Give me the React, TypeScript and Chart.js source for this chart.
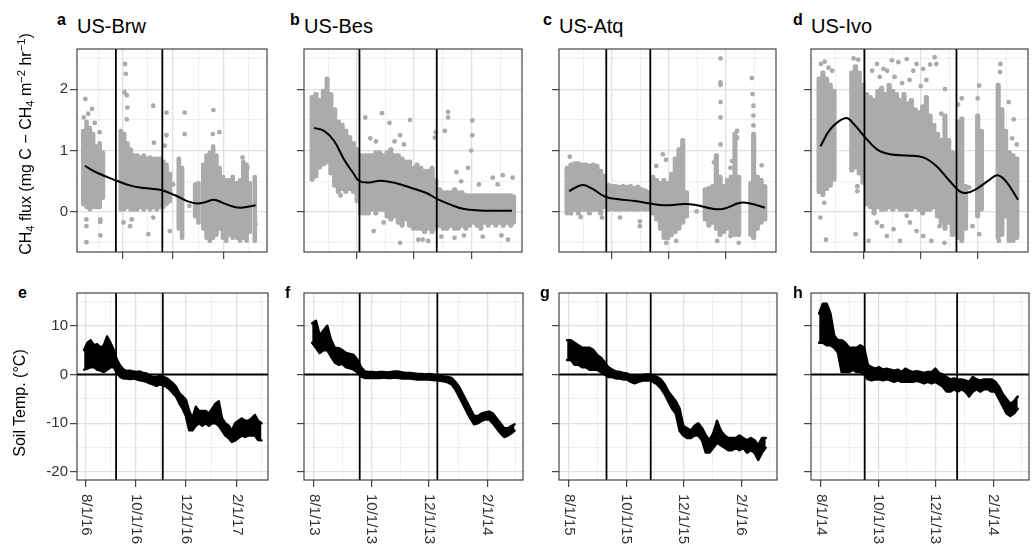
import React, { useEffect, useRef } from 'react';
import { Chart, registerables } from 'chart.js';

Chart.register(...registerables);

// ---------------- data ----------------
const SITES = ['US-Brw', 'US-Bes', 'US-Atq', 'US-Ivo'];
const FLUX_LETTERS = ['a', 'b', 'c', 'd'];
const TEMP_LETTERS = ['e', 'f', 'g', 'h'];

const DAY_RANGE = [-10.7, 222];
const DATE_TICK_DAYS = [0, 61, 122, 184];
const DATE_MINOR_DAYS = [30.5, 91.5, 153, 214.5];
const BRW_DATES = ['8/1/16', '10/1/16', '12/1/16', '2/1/17'];
const BES_DATES = ['8/1/13', '10/1/13', '12/1/13', '2/1/14'];
const ATQ_DATES = ['8/1/15', '10/1/15', '12/1/15', '2/1/16'];
const IVO_DATES = ['8/1/14', '10/1/13', '12/1/13', '2/1/14'];

const BRW_BREAKS = [36.9, 93.8];
const BES_BREAKS = [48.5, 131];
const ATQ_BREAKS = [40, 87.2];
const IVO_BREAKS = [46.6, 145.3];

const FLUX_RANGE = [-0.65, 2.654];
const FLUX_TICKS = [0, 1, 2];
const FLUX_MINOR = [-0.5, 0.5, 1.5, 2.5];
const TEMP_RANGE = [-21.62, 16.71];
const TEMP_TICKS = [-20, -10, 0, 10];
const TEMP_MINOR = [-15, -5, 5, 15];

// CH4 flux: dense cloud extent per bin [day, low, high]
const BRW_FLUX_BAND = [
  [-3, 0.1, 1.35], [1, 0.05, 1.5], [5, 0.0, 1.4], [9, 0.05, 1.3], [13, 0.05, 1.1], [17, 0.05, 1.15], [21, 0.2, 1.0],
  [43, 0.0, 1.35], [47, 0.0, 1.3], [51, 0.05, 1.15], [55, 0.0, 1.05], [59, 0.0, 0.95], [63, 0.0, 0.95], [67, 0.05, 0.92],
  [71, 0.0, 0.95], [75, 0.05, 0.9], [79, 0.0, 0.92], [83, 0.05, 0.9], [87, 0.0, 0.9], [91, 0.05, 0.9], [95, 0.05, 0.85],
  [99, 0.1, 0.8], [103, 0.15, 0.65],
  [114, -0.3, 0.9], [118, -0.45, 0.75],
  [134, -0.1, 0.48], [138, -0.2, 0.5],
  [144, -0.3, 0.8], [148, -0.45, 0.95], [152, -0.5, 1.0], [156, -0.45, 1.1], [160, -0.4, 0.95], [164, -0.3, 0.75],
  [168, -0.45, 0.6], [172, -0.5, 0.55], [176, -0.4, 0.55], [180, -0.45, 0.6],
  [185, -0.45, 0.5], [189, -0.5, 0.55], [193, -0.45, 0.85], [197, -0.5, 0.8], [201, -0.35, 0.5],
  [207, -0.5, 0.6],
];
const BRW_FLUX_POINTS = [
  [-0.4, 1.84], [7.7, 1.68], [-2.4, 1.54], [0.8, -0.12], [0.8, -0.23], [0.8, -0.49], [17.9, -0.12], [17.9, -0.16],
  [17.9, -0.38], [17, 1.3], [48.2, 2.41], [49, 2.25], [47.4, 1.95], [50.3, 1.9], [51, 1.7], [50.3, 1.51], [82.7, 1.73],
  [83.5, 1.13], [46.2, -0.17], [56.3, -0.12], [54.3, -0.23], [76.6, -0.36], [82.7, -0.09], [98.9, 1.62], [98.9, 1.25],
  [96.8, 1.08], [102.9, -0.31], [121.1, 1.62], [121.1, 1.27], [156.4, 1.66], [155.6, 1.27], [163.7, 1.3], [192, 0.89],
  [198.1, 0.72], [3, 1.6], [11, 1.45], [104, 0.3], [107, 0.45], [127, 0.1], [208, -0.2],
];
const BRW_FLUX_SMOOTH = [
  [-1, 0.75], [14, 0.64], [36, 0.52], [55, 0.43], [71, 0.39], [92, 0.36], [110, 0.27], [126, 0.17], [136, 0.14],
  [146, 0.16], [157, 0.2], [168, 0.15], [180, 0.09], [190, 0.07], [200, 0.09], [208, 0.11],
];

const BES_FLUX_BAND = [
  [-2, 0.5, 1.9], [2, 0.55, 1.95], [6, 0.7, 1.85], [10, 0.75, 2.0], [14, 0.78, 2.2], [18, 0.6, 1.95], [22, 0.4, 1.7],
  [26, 0.3, 1.5], [30, 0.35, 1.45], [34, 0.3, 1.35], [38, 0.35, 1.25], [42, 0.3, 1.15], [46, 0.15, 1.05],
  [50, -0.05, 0.95], [54, -0.05, 0.95], [58, -0.05, 0.95], [62, 0.0, 0.95], [66, -0.05, 1.0], [70, 0.0, 1.0],
  [74, 0.0, 0.95], [78, -0.1, 1.0], [82, -0.15, 1.05], [86, -0.1, 0.95], [90, -0.2, 0.95], [94, -0.25, 0.9],
  [98, -0.15, 0.85], [102, -0.25, 0.85], [106, -0.3, 0.75], [110, -0.3, 0.8], [114, -0.3, 0.75], [118, -0.35, 0.7],
  [122, -0.3, 0.7], [126, -0.35, 0.75], [130, -0.3, 0.55], [134, -0.25, 0.4], [138, -0.3, 0.35], [142, -0.3, 0.35],
  [146, -0.25, 0.35], [150, -0.3, 0.4], [154, -0.3, 0.35], [158, -0.25, 0.35], [162, -0.3, 0.3], [166, -0.25, 0.3],
  [170, -0.2, 0.3], [174, -0.25, 0.3], [178, -0.3, 0.3], [182, -0.2, 0.3], [186, -0.25, 0.3], [190, -0.2, 0.3],
  [194, -0.25, 0.3], [198, -0.2, 0.3], [202, -0.25, 0.3], [206, -0.2, 0.3], [210, -0.25, 0.3], [213, -0.2, 0.28],
];
const BES_FLUX_POINTS = [
  [54.8, 1.54], [72.5, 1.61], [80.6, 1.45], [102.5, 1.5], [91.9, 1.25], [143, 1.63], [143, 1.54], [139.6, 1.32],
  [168.9, 1.49], [168.9, 1.25], [167.8, 1.0], [164.3, 0.72], [152, 0.65], [190.8, 0.56], [201.4, 0.6], [212, 0.56],
  [74.3, -0.17], [91.9, -0.5], [111.3, -0.45], [121.9, -0.47], [63.7, -0.31], [28.3, 0.27], [129, 1.21], [130, 1.3],
  [60, 1.2], [66, 1.15], [86, 1.15], [96, 1.1], [116, -0.45], [136, -0.4], [150, -0.42], [160, -0.38], [180, -0.4],
  [200, -0.38], [207, -0.45], [157, 0.5], [176, 0.45], [196, 0.45],
];
const BES_FLUX_SMOOTH = [
  [0, 1.37], [10.7, 1.32], [21.3, 1.16], [31.9, 0.86], [42.5, 0.62], [47.8, 0.51], [56.6, 0.48], [70.7, 0.51],
  [84.8, 0.48], [102.5, 0.4], [120, 0.31], [130.7, 0.22], [145, 0.125], [159, 0.054], [176.6, 0.025], [194.3, 0.02],
  [211.3, 0.02],
];

const ATQ_FLUX_BAND = [
  [-2, -0.05, 0.75], [2, -0.05, 0.8], [6, 0.0, 0.82], [10, -0.05, 0.82], [14, 0.0, 0.8], [18, 0.0, 0.8],
  [22, -0.05, 0.78], [26, 0.0, 0.8], [30, 0.0, 0.78], [34, -0.05, 0.7], [38, 0.05, 0.62],
  [42, 0.0, 0.47], [46, 0.02, 0.45], [50, 0.0, 0.45], [54, 0.0, 0.44], [58, 0.02, 0.45], [62, 0.0, 0.44],
  [66, 0.02, 0.45], [70, 0.0, 0.42], [74, 0.0, 0.44], [78, 0.02, 0.4], [82, 0.0, 0.38], [86, 0.02, 0.35],
  [90, -0.05, 0.6], [94, -0.15, 0.55], [98, -0.3, 0.5], [102, -0.45, 0.55], [106, -0.45, 0.5], [110, -0.4, 0.65],
  [114, -0.35, 0.9], [118, -0.3, 1.05], [122, -0.2, 1.2], [126, -0.1, 0.35],
  [146, -0.15, 0.4], [150, -0.25, 0.42], [154, -0.2, 0.45], [158, -0.3, 0.95], [162, -0.4, 0.6], [166, -0.35, 0.45],
  [170, -0.3, 0.55], [174, -0.4, 0.6], [178, -0.4, 1.3], [182, -0.4, 0.6],
  [195, -0.4, 0.5], [198, -0.45, 1.3], [202, -0.3, 0.6], [206, -0.2, 0.55], [210, -0.15, 0.45],
];
const ATQ_FLUX_POINTS = [
  [0.8, 0.9], [12.5, -0.08], [35.4, -0.09], [162.5, 2.5], [162.5, 2.11], [162.5, 2.07], [162.5, 1.79], [162.5, 1.54],
  [162.5, 1.1], [180.2, 1.32], [180.2, 1.21], [196.1, 2.18], [196.8, 1.92], [197.8, 1.73], [197.8, 1.57],
  [197.8, 1.41], [206.7, 0.76], [93.7, 0.75], [100.7, 0.94], [104, 0.85], [159, -0.47], [173.1, -0.39], [182, -0.5],
  [162.5, -0.31], [104.3, -0.5], [114.9, -0.47], [76, -0.23], [76, -0.15], [54.8, -0.09], [155.5, 0.81],
  [173.1, 0.72], [174.9, 0.83], [137, 0.01],
];
const ATQ_FLUX_SMOOTH = [
  [0.1, 0.34], [14.2, 0.44], [24.8, 0.38], [38.9, 0.25], [53.1, 0.21], [70.7, 0.18], [86.6, 0.14], [102.5, 0.11],
  [123.7, 0.13], [134.3, 0.12], [155.5, 0.05], [166, 0.055], [183.7, 0.15], [194.3, 0.14], [210.2, 0.07],
];

const IVO_FLUX_BAND = [
  [-2, 0.3, 2.2], [2, 0.25, 2.3], [6, 0.35, 2.2], [10, 0.4, 2.1], [14, 0.5, 2.0],
  [33, 0.65, 2.3], [37, 0.7, 2.4], [41, 0.6, 2.3], [45, 0.45, 2.1],
  [49, 0.1, 1.95], [53, 0.05, 1.9], [57, -0.05, 1.85], [61, 0.05, 2.0], [65, 0.0, 2.05], [69, 0.0, 1.95],
  [73, 0.05, 2.1], [77, 0.0, 2.0], [81, 0.05, 1.95], [85, 0.0, 1.85], [89, 0.0, 1.95], [93, 0.0, 1.8],
  [97, 0.0, 1.85], [101, 0.05, 1.7], [105, 0.0, 1.65], [109, -0.05, 1.75], [113, 0.0, 1.9], [117, 0.0, 1.6],
  [121, 0.05, 1.45], [125, -0.1, 1.3], [129, -0.2, 1.2], [133, -0.3, 1.6], [137, -0.2, 1.2], [141, -0.4, 1.0],
  [147, -0.45, 1.5], [151, -0.5, 1.55], [155, -0.3, 0.45],
  [168, -0.1, 1.6], [172, 0.0, 1.35],
  [190, -0.45, 2.1], [194, -0.4, 1.7], [198, -0.1, 1.35], [202, -0.5, 1.0], [206, -0.5, 0.95], [210, -0.45, 0.9],
];
const IVO_FLUX_POINTS = [
  [192.5, 2.41], [192, 2.28], [169.6, 2.06], [201.4, 1.79], [206.7, 1.51], [159, 0.4], [152, 0.1], [162.5, -0.23],
  [169.6, -0.36], [190.8, -0.47], [39, 0.42], [39, 0.34], [37.2, -0.36], [-0.6, -0.09], [5.4, -0.45], [3.6, 0.15],
  [56.6, -0.01], [51, -0.47], [60.1, 2.41], [67, 2.33], [76, 2.47], [83, 2.44], [91.9, 2.49], [102.5, 2.41],
  [121.9, 2.52], [123.7, 2.41], [109.6, 2.33], [54.8, 2.3], [60.1, -0.17], [65.4, -0.23], [70.7, -0.39],
  [77.8, -0.28], [84.8, -0.47], [95.4, -0.17], [102.5, -0.31], [109.6, -0.39], [118.4, -0.47], [127.2, -0.23],
  [132.5, -0.5], [91.9, -0.06],
  [0, 2.41], [4, 2.45], [8, 2.35], [12, 2.3], [35, 2.5], [40, 2.48], [63, 2.2], [71, 2.3], [79, 2.2], [87, 2.1],
  [95, 2.15], [99, 2.3], [107, 2.05], [113, 2.15], [117, 2.4], [129, 1.6], [133, 2.0], [147, 1.75], [151, 1.85],
  [168, 1.85], [205, 1.2], [210, 1.1],
];
const IVO_FLUX_SMOOTH = [
  [-0.6, 1.07], [10.7, 1.36], [26.6, 1.53], [35.4, 1.43], [46, 1.24], [60.1, 1.02], [74.2, 0.94], [91.9, 0.92],
  [109.6, 0.89], [123.7, 0.75], [137.8, 0.51], [148.4, 0.34], [155.5, 0.31], [166, 0.37], [180.2, 0.52],
  [189, 0.6], [197.8, 0.51], [211.3, 0.2],
];

// Soil temperature: trace extent per bin [day, low, high]
const BRW_TEMP_BAND = [
  [-2, 1.0, 5.0], [2, 1.2, 6.5], [6, 1.5, 7.0], [10, 1.5, 6.0], [14, 1.0, 6.2], [18, 0.8, 5.5], [22, 0.5, 6.0],
  [26, 1.0, 7.8], [30, 1.5, 6.5], [34, 1.5, 5.0], [38, 0.3, 3.0], [42, -0.5, 1.8], [46, -0.8, 1.0], [50, -0.8, 0.7],
  [54, -0.9, 0.8], [58, -0.8, 0.6], [62, -1.0, 0.5], [66, -1.2, 0.6], [70, -1.3, 0.3], [74, -1.5, 0.2],
  [78, -1.8, -0.3], [82, -2.0, -0.5], [86, -2.3, -0.5], [90, -2.0, -0.3], [94, -2.2, -0.5], [98, -2.5, -0.7],
  [102, -3.0, -1.2], [106, -3.8, -1.8], [110, -4.5, -2.5], [114, -5.9, -3.8], [118, -7.0, -4.5], [122, -8.5, -5.2],
  [126, -11.4, -7.5], [130, -11.4, -9.0], [134, -10.5, -6.6], [138, -10.0, -7.5], [142, -10.5, -7.5],
  [146, -10.0, -7.5], [150, -10.5, -8.0], [154, -10.0, -7.0], [158, -10.0, -6.0], [162, -10.5, -5.5],
  [166, -11.5, -9.0], [170, -12.5, -10.0], [174, -13.0, -10.5], [178, -13.8, -11.5], [182, -13.5, -10.0],
  [186, -13.0, -9.5], [190, -12.5, -9.0], [194, -12.8, -9.5], [198, -12.5, -9.5], [202, -12.5, -9.0],
  [206, -12.5, -8.3], [210, -13.4, -9.5], [214, -13.5, -10.0],
];
const BES_TEMP_BAND = [
  [-2, 6.5, 10.5], [2, 5.5, 11.0], [6, 4.4, 8.0], [10, 5.0, 9.0], [14, 5.0, 10.0], [18, 3.7, 7.1], [22, 2.5, 5.5],
  [26, 2.0, 5.4], [30, 2.2, 5.0], [34, 1.5, 4.4], [38, 1.3, 4.2], [42, 1.0, 4.0], [46, 0.5, 3.0], [50, -0.4, 1.5],
  [54, -0.7, 0.6], [58, -0.7, 0.5], [62, -0.7, 0.5], [66, -0.7, 0.4], [70, -0.7, 0.5], [74, -0.6, 0.5],
  [78, -0.7, 0.4], [82, -0.7, 0.5], [86, -0.6, 0.6], [90, -0.7, 0.6], [94, -0.8, 0.4], [98, -0.8, 0.3],
  [102, -0.8, 0.3], [106, -0.9, 0.2], [110, -1.0, 0.1], [114, -1.0, 0.1], [118, -1.0, 0.0], [122, -1.0, 0.1],
  [126, -1.1, 0.0], [130, -1.2, -0.2], [134, -1.3, -0.3], [138, -1.4, -0.4], [142, -1.6, -0.5], [146, -2.0, -0.7],
  [150, -3.0, -1.5], [154, -4.5, -2.5], [158, -6.0, -4.0], [162, -7.5, -5.5], [166, -9.0, -7.0], [170, -10.2, -8.5],
  [174, -10.0, -8.5], [178, -9.5, -8.0], [182, -9.2, -7.8], [186, -9.2, -7.6], [190, -10.0, -8.0],
  [194, -11.0, -9.0], [198, -12.0, -10.0], [202, -12.8, -11.0], [206, -12.5, -11.0], [210, -12.0, -10.5],
  [213, -11.5, -10.2],
];
const ATQ_TEMP_BAND = [
  [-2, 3.0, 7.0], [2, 3.0, 7.0], [6, 2.0, 6.5], [10, 2.0, 6.0], [14, 1.5, 5.5], [18, 1.5, 5.5], [22, 1.0, 5.5],
  [26, 1.0, 5.0], [30, 1.0, 4.0], [34, 0.5, 3.5], [38, 0.0, 2.5], [42, -0.5, 1.5], [46, -0.5, 1.0], [50, -0.8, 0.6],
  [54, -0.8, 0.5], [58, -1.0, 0.3], [62, -1.0, 0.2], [66, -1.5, -0.2], [70, -1.8, -0.3], [74, -1.5, -0.2],
  [78, -1.3, -0.2], [82, -1.2, 0.0], [86, -1.2, 0.0], [90, -1.5, -0.2], [94, -2.0, -0.5], [98, -2.8, -1.0],
  [102, -4.0, -2.0], [106, -5.5, -3.5], [110, -7.0, -4.5], [114, -8.0, -5.5], [118, -11.5, -7.0],
  [122, -12.5, -10.5], [126, -13.0, -11.0], [130, -13.0, -11.5], [134, -12.5, -10.5], [138, -12.5, -10.0],
  [142, -13.5, -11.0], [146, -16.0, -12.5], [150, -16.0, -13.5], [154, -15.0, -12.0], [158, -14.0, -9.5],
  [162, -14.5, -11.5], [166, -15.0, -12.5], [170, -15.5, -13.0], [174, -15.5, -13.0], [178, -15.0, -13.0],
  [182, -15.5, -12.5], [186, -15.0, -13.0], [190, -16.0, -13.5], [194, -15.5, -13.0], [198, -16.0, -13.5],
  [202, -17.5, -14.5], [206, -16.0, -13.0], [210, -15.0, -13.0],
];
const IVO_TEMP_BAND = [
  [-2, 6.5, 12.5], [2, 6.5, 14.5], [6, 6.0, 14.5], [10, 6.0, 12.5], [14, 5.5, 8.0], [18, 4.5, 7.0], [22, 0.5, 7.0],
  [26, 0.5, 6.5], [30, 0.5, 5.5], [34, 1.0, 5.5], [38, 0.5, 5.5], [42, 0.5, 6.0], [46, 0.0, 5.5], [50, -1.0, 2.0],
  [54, -1.2, 1.5], [58, -1.0, 1.2], [62, -1.0, 1.5], [66, -1.2, 1.0], [70, -1.0, 1.2], [74, -1.2, 1.0],
  [78, -1.5, 0.8], [82, -1.2, 1.0], [86, -1.5, 0.5], [90, -1.5, 1.2], [94, -1.5, 0.8], [98, -1.5, 0.5],
  [102, -1.3, 0.7], [106, -1.5, 0.5], [110, -1.8, 0.3], [114, -1.5, 0.5], [118, -1.8, 0.5], [122, -1.5, 1.2],
  [126, -2.0, 0.3], [130, -2.5, 0.0], [134, -3.5, -0.5], [138, -3.5, -1.0], [142, -3.0, -0.8], [146, -3.5, -1.0],
  [150, -3.0, -1.0], [154, -3.5, -1.2], [158, -4.5, -1.5], [162, -3.5, -0.5], [166, -3.0, -1.0], [170, -3.5, -1.2],
  [174, -3.0, -1.0], [178, -3.0, -1.0], [182, -3.5, -1.0], [186, -3.5, -1.5], [190, -5.0, -2.5], [194, -6.5, -4.0],
  [198, -8.0, -5.0], [202, -8.5, -6.0], [206, -8.0, -5.5], [210, -7.0, -4.5],
];

// ---------------- layout / style ----------------
const FONT = '"Liberation Sans", Arial, Helvetica, sans-serif';
const GREY = '#ababab';
const TICK_TEXT = '#333333';
const COL_LEFT = [77, 304, 559, 811];
const COL_RIGHT = [268, 523, 777, 1029];
const ROW_TOP = [49, 293];
const ROW_BOTTOM = [252, 480];
const Y_AXIS_W = 45;
const PAD_T = 4;
const PAD_R = 3;
const TICK_LEN = 7;
const MAX_BIN_GAP = 6;

const FLUX_SETS = [
  { band: BRW_FLUX_BAND, points: BRW_FLUX_POINTS, smooth: BRW_FLUX_SMOOTH },
  { band: BES_FLUX_BAND, points: BES_FLUX_POINTS, smooth: BES_FLUX_SMOOTH },
  { band: ATQ_FLUX_BAND, points: ATQ_FLUX_POINTS, smooth: ATQ_FLUX_SMOOTH },
  { band: IVO_FLUX_BAND, points: IVO_FLUX_POINTS, smooth: IVO_FLUX_SMOOTH },
];
const TEMP_SETS = [BRW_TEMP_BAND, BES_TEMP_BAND, ATQ_TEMP_BAND, IVO_TEMP_BAND];
const DATE_SETS = [BRW_DATES, BES_DATES, ATQ_DATES, IVO_DATES];
const BREAK_SETS = [BRW_BREAKS, BES_BREAKS, ATQ_BREAKS, IVO_BREAKS];

const has = (arr: number[], v: number) => arr.some((a) => Math.abs(a - v) < 1e-9);

// split a band into runs of bins that have no gap in the record
function splitRuns(band: number[][]) {
  const runs: number[][][] = [];
  band.forEach((b, i) => {
    if (i === 0 || b[0] - band[i - 1][0] > MAX_BIN_GAP) runs.push([]);
    runs[runs.length - 1].push(b);
  });
  return runs;
}

// filled trace between the low and high edges (soil temperature)
function traceDatasets(band: number[][], color: string, width: number, order: number) {
  const out: any[] = [];
  splitRuns(band).forEach((run) => {
    out.push({
      type: 'line',
      data: run.map(([d, , hi]) => ({ x: d, y: hi })),
      borderColor: color,
      borderWidth: width,
      borderJoinStyle: 'round',
      borderCapStyle: 'round',
      pointRadius: 0,
      fill: false,
      order,
    });
    out.push({
      type: 'line',
      data: run.map(([d, lo]) => ({ x: d, y: lo })),
      borderColor: color,
      backgroundColor: color,
      borderWidth: width,
      borderJoinStyle: 'round',
      borderCapStyle: 'round',
      pointRadius: 0,
      fill: '-1',
      order,
    });
  });
  return out;
}

const rotatedDateLabels = {
  id: 'rotatedDateLabels',
  afterDraw(chart: any, _args: any, opts: any) {
    if (!opts || !opts.labels) return;
    const xs = chart.scales.x;
    const ctx = chart.ctx;
    ctx.save();
    ctx.font = `15px ${FONT}`;
    ctx.fillStyle = TICK_TEXT;
    ctx.textAlign = 'left';
    ctx.textBaseline = 'middle';
    DATE_TICK_DAYS.forEach((d, i) => {
      const px = xs.getPixelForValue(d);
      ctx.save();
      ctx.translate(px, chart.chartArea.bottom + 14);
      ctx.rotate(Math.PI / 2);
      ctx.fillText(opts.labels[i], 0, 0);
      ctx.restore();
    });
    ctx.restore();
  },
};

const panelBorder = {
  id: 'panelBorder',
  afterDatasetsDraw(chart: any) {
    const { left, top, right, bottom } = chart.chartArea;
    const ctx = chart.ctx;
    ctx.save();
    ctx.strokeStyle = '#333333';
    ctx.lineWidth = 1.1;
    ctx.strokeRect(left, top, right - left, bottom - top);
    ctx.restore();
  },
};

type PanelSpec = { row: number; col: number };

function geometry(p: PanelSpec) {
  const left = COL_LEFT[p.col] - Y_AXIS_W;
  const top = ROW_TOP[p.row] - PAD_T;
  const width = COL_RIGHT[p.col] - COL_LEFT[p.col] + Y_AXIS_W + PAD_R;
  const plotH = ROW_BOTTOM[p.row] - ROW_TOP[p.row];
  const height = p.row === 0 ? plotH + PAD_T + 12 : 546 - top;
  return { left, top, width, height, xAxisH: height - PAD_T - plotH };
}

function buildConfig(p: PanelSpec) {
  const isFlux = p.row === 0;
  const yRange = isFlux ? FLUX_RANGE : TEMP_RANGE;
  const yMajor = isFlux ? FLUX_TICKS : TEMP_TICKS;
  const yMinor = isFlux ? FLUX_MINOR : TEMP_MINOR;
  const yTicks = [...yMajor, ...yMinor].sort((a, b) => a - b);
  const xTicks = [...DATE_TICK_DAYS, ...DATE_MINOR_DAYS].sort((a, b) => a - b);
  const g = geometry(p);
  const barW = p.col === 0 ? 4 : 4.5;

  const datasets: any[] = [];
  if (isFlux) {
    const s = FLUX_SETS[p.col];
    datasets.push({
      type: 'bar',
      data: s.band.map(([d, lo, hi]) => ({ x: d, y: [lo, hi] })),
      backgroundColor: GREY,
      barThickness: barW,
      borderRadius: 2,
      borderSkipped: false,
      borderWidth: 0,
      grouped: false,
      order: 6,
    });
    datasets.push({
      type: 'scatter',
      data: s.points.map(([x, y]) => ({ x, y })),
      pointRadius: 2.4,
      pointBackgroundColor: GREY,
      pointBorderWidth: 0,
      backgroundColor: GREY,
      borderWidth: 0,
      order: 5,
    });
    datasets.push({
      type: 'line',
      data: s.smooth.map(([x, y]) => ({ x, y })),
      borderColor: '#000',
      borderWidth: 2,
      pointRadius: 0,
      tension: 0.4,
      fill: false,
      order: 2,
    });
  } else {
    datasets.push(...traceDatasets(TEMP_SETS[p.col], '#000', 2.5, 6));
    datasets.push({
      type: 'line',
      data: [{ x: DAY_RANGE[0], y: 0 }, { x: DAY_RANGE[1], y: 0 }],
      borderColor: '#000',
      borderWidth: 1.8,
      pointRadius: 0,
      order: 1,
    });
  }
  BREAK_SETS[p.col].forEach((b) => {
    datasets.push({
      type: 'line',
      data: [{ x: b, y: yRange[0] }, { x: b, y: yRange[1] }],
      borderColor: '#000',
      borderWidth: 1.8,
      pointRadius: 0,
      order: 1,
    });
  });

  const zeroPad = (s: any) => {
    s.paddingLeft = 0;
    s.paddingRight = 0;
    s.paddingTop = 0;
    s.paddingBottom = 0;
  };

  const gridFor = (major: number[]) => ({
    color: (c: any) => (c.tick && has(major, c.tick.value) ? '#e0e0e0' : '#ebebeb'),
    lineWidth: (c: any) => (c.tick && has(major, c.tick.value) ? 1.3 : 0.8),
    tickColor: (c: any) => (c.tick && has(major, c.tick.value) ? '#333333' : 'rgba(0,0,0,0)'),
    tickLength: TICK_LEN,
    tickWidth: 1.1,
    drawTicks: true,
  });

  return {
    type: 'scatter',
    data: { datasets },
    plugins: [panelBorder, rotatedDateLabels],
    options: {
      animation: false,
      responsive: false,
      events: [],
      layout: { padding: { left: 0, top: PAD_T, right: PAD_R, bottom: 0 } },
      plugins: {
        legend: { display: false },
        tooltip: { enabled: false },
        filler: { propagate: false },
        rotatedDateLabels: { labels: p.row === 1 ? DATE_SETS[p.col] : null },
      },
      scales: {
        x: {
          type: 'linear',
          min: DAY_RANGE[0],
          max: DAY_RANGE[1],
          offset: false,
          afterBuildTicks: (s: any) => {
            s.ticks = xTicks.map((v) => ({ value: v }));
          },
          afterFit: (s: any) => {
            s.height = g.xAxisH;
            zeroPad(s);
          },
          ticks: { callback: () => '', autoSkip: false, maxRotation: 0, minRotation: 0 },
          grid: gridFor(DATE_TICK_DAYS),
          border: { display: false },
        },
        y: {
          type: 'linear',
          min: yRange[0],
          max: yRange[1],
          afterBuildTicks: (s: any) => {
            s.ticks = yTicks.map((v) => ({ value: v }));
          },
          afterFit: (s: any) => {
            s.width = Y_AXIS_W;
            zeroPad(s);
          },
          ticks: {
            callback: (v: number) => (p.col === 0 && has(yMajor, v) ? String(v) : ''),
            autoSkip: false,
            padding: 2,
            font: { family: FONT, size: 15 },
            color: TICK_TEXT,
          },
          grid: gridFor(yMajor),
          border: { display: false },
        },
      },
    },
  };
}

function Panel({ spec }: { spec: PanelSpec }) {
  const ref = useRef<HTMLCanvasElement>(null);
  const g = geometry(spec);
  useEffect(() => {
    if (!ref.current) return;
    const chart = new Chart(ref.current, buildConfig(spec) as any);
    return () => chart.destroy();
  }, []);
  return (
    <canvas
      ref={ref}
      width={g.width}
      height={g.height}
      style={{ position: 'absolute', left: g.left, top: g.top, width: g.width, height: g.height }}
    />
  );
}

const TOP_LETTER_X = [57, 290, 543, 793];
const BOTTOM_LETTER_X = [18, 285, 540, 793];

const subStyle: React.CSSProperties = { fontSize: '0.7em', verticalAlign: '-0.3em', lineHeight: 0 };
const supStyle: React.CSSProperties = { fontSize: '0.7em', verticalAlign: '0.55em', lineHeight: 0 };

export default function App() {
  const panels: PanelSpec[] = [];
  for (let r = 0; r < 2; r++) for (let c = 0; c < 4; c++) panels.push({ row: r, col: c });
  return (
    <div
      style={{
        position: 'absolute',
        left: 0,
        top: 0,
        width: 1032,
        height: 546,
        background: '#fff',
        overflow: 'hidden',
        fontFamily: FONT,
        color: '#000',
      }}
    >
      {panels.map((p) => (
        <Panel key={`${p.row}-${p.col}`} spec={p} />
      ))}
      {SITES.map((s, i) => (
        <div
          key={s}
          style={{ position: 'absolute', left: COL_LEFT[i], top: 15.5, fontSize: 20, lineHeight: '20px', whiteSpace: 'nowrap' }}
        >
          {s}
        </div>
      ))}
      {FLUX_LETTERS.map((l, i) => (
        <div
          key={l}
          style={{ position: 'absolute', left: TOP_LETTER_X[i], top: 11.5, fontSize: 16, fontWeight: 'bold', lineHeight: '16px' }}
        >
          {l}
        </div>
      ))}
      {TEMP_LETTERS.map((l, i) => (
        <div
          key={l}
          style={{ position: 'absolute', left: BOTTOM_LETTER_X[i], top: 284.5, fontSize: 16, fontWeight: 'bold', lineHeight: '16px' }}
        >
          {l}
        </div>
      ))}
      <div
        style={{
          position: 'absolute',
          left: 26,
          top: 144,
          fontSize: 16,
          lineHeight: '18px',
          whiteSpace: 'nowrap',
          transform: 'translate(-50%, -50%) rotate(-90deg)',
        }}
      >
        CH<span style={subStyle}>4</span> flux (mg C − CH<span style={subStyle}>4</span> m<span style={supStyle}>−2</span> hr
        <span style={supStyle}>−1</span>)
      </div>
      <div
        style={{
          position: 'absolute',
          left: 20,
          top: 403,
          fontSize: 16,
          lineHeight: '18px',
          whiteSpace: 'nowrap',
          transform: 'translate(-50%, -50%) rotate(-90deg)',
        }}
      >
        Soil Temp. (°C)
      </div>
    </div>
  );
}
